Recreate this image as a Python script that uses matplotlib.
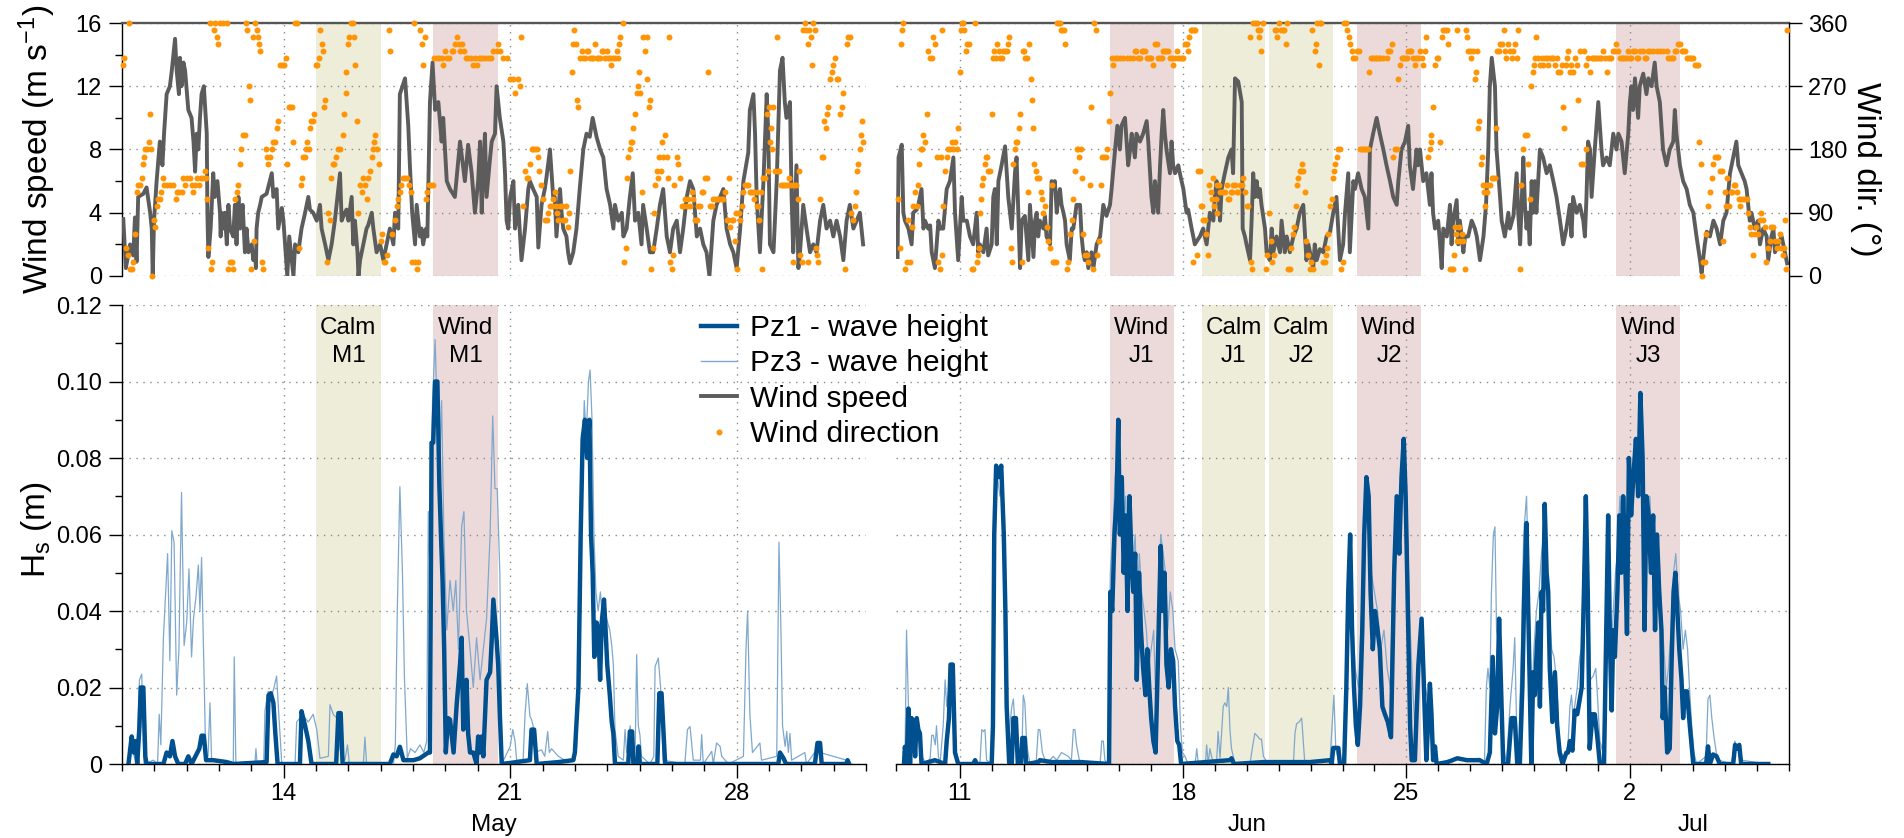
import numpy as np
import matplotlib
matplotlib.use("Agg")
import matplotlib.pyplot as plt
import matplotlib.dates as mdates
from matplotlib.lines import Line2D
from matplotlib.ticker import MultipleLocator, FuncFormatter, FixedLocator

plt.rcParams['font.family'] = ['Liberation Sans', 'DejaVu Sans']
plt.rcParams['mathtext.fontset'] = 'custom'
plt.rcParams['mathtext.rm'] = 'Liberation Sans'
plt.rcParams['mathtext.it'] = 'Liberation Sans:italic'
plt.rcParams['mathtext.default'] = 'regular'

# ---------------- data (time = days since segment start) ----------------
SEGMENTS = [("2013-05-09", "2013-06-01"), ("2013-06-09", "2013-07-07")]

may_ws = [(0.04,3.6),(0.12,0.5),(0.25,2.0),(0.35,1.3),(0.40,3.7),(0.45,0.9),(0.50,5.0),(0.66,5.2),(0.76,5.6),(0.87,4.0),(0.92,3.0),(0.95,0.0),(0.99,3.5),(1.07,6.0),(1.17,8.5),(1.25,7.0),(1.30,9.0),(1.38,11.5),(1.48,12.0),(1.54,13.0),(1.59,14.0),(1.64,15.0),(1.69,13.0),(1.76,11.5),(1.79,13.8),(1.84,12.0),(1.90,13.5),(1.95,13.0),(2.05,10.5),(2.15,10.0),(2.21,8.5),(2.26,6.6),(2.31,9.0),(2.36,8.0),(2.41,10.0),(2.46,11.5),(2.53,12.0),(2.62,9.0),(2.64,4.0),(2.67,1.2),(2.74,3.0),(2.82,6.5),(2.87,5.0),(2.95,6.0),(3.03,4.0),(3.05,2.5),(3.08,4.0),(3.13,3.0),(3.18,4.0),(3.24,2.0),(3.29,4.5),(3.34,3.0),(3.44,2.5),(3.49,4.5),(3.54,2.0),(3.60,5.0),(3.65,3.0),(3.73,4.5),(3.80,1.5),(3.85,3.0),(3.91,1.5),(4.01,2.0),(4.06,1.0),(4.11,1.5),(4.14,0.5),(4.16,3.0),(4.21,4.0),(4.27,4.5),(4.32,5.0),(4.47,5.2),(4.63,6.5),(4.68,5.0),(4.78,5.5),(4.83,3.0),(4.94,4.3),(4.99,3.5),(5.04,2.0),(5.11,0.0),(5.17,2.5),(5.30,0.0),(5.35,2.0),(5.45,1.5),(5.55,3.0),(5.66,4.0),(5.76,5.0),(5.81,4.2),(5.91,4.0),(6.02,3.5),(6.12,4.5),(6.17,3.0),(6.28,2.0),(6.38,1.0),(6.48,2.0),(6.58,3.5),(6.66,5.0),(6.74,6.5),(6.79,3.5),(6.89,4.0),(6.94,4.2),(7.00,3.5),(7.10,5.0),(7.15,2.0),(7.20,3.5),(7.28,1.5),(7.31,0.0),(7.36,1.0),(7.46,2.0),(7.56,3.0),(7.61,3.2),(7.72,4.0),(7.77,3.0),(7.87,1.5),(7.98,2.0),(8.08,1.0),(8.18,2.0),(8.28,3.0),(8.39,2.0),(8.44,4.0),(8.54,3.0),(8.59,11.5),(8.75,12.5),(8.80,11.0),(8.85,9.5),(8.90,7.0),(8.97,4.0),(9.06,2.0),(9.11,4.5),(9.21,2.5),(9.26,3.0),(9.31,2.0),(9.40,3.0),(9.44,2.5),(9.52,11.0),(9.60,13.5),(9.68,10.5),(9.78,11.0),(9.88,8.5),(9.93,10.0),(10.04,6.0),(10.14,5.5),(10.29,5.0),(10.45,8.5),(10.60,6.0),(10.70,8.3),(10.81,6.5),(10.91,4.0),(11.01,6.0),(11.07,8.5),(11.12,4.0),(11.17,7.0),(11.22,9.0),(11.27,5.0),(11.38,7.5),(11.43,8.5),(11.53,9.0),(11.58,12.0),(11.68,10.0),(11.79,8.5),(11.84,6.5),(11.89,3.5),(11.94,3.0),(12.00,5.0),(12.10,6.0),(12.15,3.0),(12.25,4.5),(12.35,1.0),(12.46,3.0),(12.56,5.5),(12.61,6.0),(12.71,5.5),(12.82,5.0),(12.87,1.8),(12.97,4.5),(13.07,5.5),(13.12,6.2),(13.23,8.0),(13.33,5.0),(13.38,5.0),(13.43,2.5),(13.54,5.5),(13.59,4.0),(13.64,3.0),(13.74,2.5),(13.79,1.5),(13.85,0.8),(13.95,1.5),(14.05,3.0),(14.15,5.5),(14.26,8.0),(14.36,9.0),(14.46,8.8),(14.55,10.0),(14.67,8.8),(14.78,8.0),(14.88,7.5),(14.98,5.5),(15.09,4.5),(15.19,3.0),(15.24,4.5),(15.34,3.5),(15.45,4.0),(15.50,2.5),(15.60,3.0),(15.70,5.0),(15.79,6.5),(15.86,3.5),(15.96,4.0),(16.06,2.0),(16.11,4.5),(16.22,3.0),(16.32,1.5),(16.42,1.5),(16.53,3.0),(16.63,4.5),(16.73,5.5),(16.84,2.5),(16.94,1.5),(17.04,3.0),(17.15,3.5),(17.25,1.5),(17.35,3.0),(17.46,5.0),(17.56,6.0),(17.66,5.5),(17.77,2.5),(17.87,3.0),(17.97,2.0),(18.07,1.5),(18.16,0.0),(18.28,3.5),(18.38,4.5),(18.49,5.0),(18.59,5.5),(18.69,3.0),(18.80,2.0),(18.90,1.5),(19.00,0.5),(19.11,3.0),(19.21,6.0),(19.36,7.8),(19.41,10.5),(19.52,11.5),(19.57,9.0),(19.62,5.0),(19.72,1.5),(19.83,6.0),(19.93,11.5),(19.98,9.0),(20.03,2.0),(20.14,1.5),(20.24,6.0),(20.34,13.0),(20.42,13.8),(20.49,11.0),(20.54,10.0),(20.65,11.0),(20.70,5.0),(20.75,1.5),(20.85,7.0),(20.91,0.5),(20.96,1.5),(21.06,4.5),(21.16,3.0),(21.27,1.5),(21.37,2.0),(21.47,1.5),(21.58,3.5),(21.68,4.5),(21.78,3.0),(21.89,3.5),(21.99,2.5),(22.09,3.5),(22.20,2.5),(22.30,1.0),(22.40,3.5),(22.50,4.5),(22.61,3.0),(22.71,3.5),(22.81,4.0),(22.91,2.0)]

jun_ws = [(0.05,1.2),(0.08,7.5),(0.18,8.3),(0.23,4.0),(0.28,3.5),(0.39,3.0),(0.44,2.5),(0.49,2.0),(0.54,4.0),(0.65,4.2),(0.70,4.5),(0.80,5.5),(0.86,3.0),(0.91,3.5),(1.01,3.0),(1.07,3.2),(1.12,1.5),(1.22,0.5),(1.33,3.5),(1.38,3.0),(1.48,3.0),(1.59,5.5),(1.69,6.0),(1.80,7.5),(1.85,4.0),(1.95,1.0),(2.06,5.0),(2.11,3.5),(2.22,3.5),(2.32,2.5),(2.42,2.0),(2.53,4.0),(2.58,1.5),(2.63,2.0),(2.74,1.5),(2.84,3.0),(2.89,1.3),(3.00,2.0),(3.05,5.0),(3.10,5.5),(3.16,2.0),(3.21,6.0),(3.31,7.0),(3.42,8.2),(3.52,5.0),(3.63,3.0),(3.73,6.5),(3.78,7.5),(3.89,0.5),(3.94,3.5),(4.04,3.8),(4.15,1.0),(4.20,4.5),(4.31,1.2),(4.36,3.5),(4.41,4.0),(4.46,2.5),(4.51,3.5),(4.62,3.0),(4.67,3.8),(4.72,2.5),(4.83,2.0),(4.88,6.0),(4.93,5.5),(4.98,6.0),(5.04,4.0),(5.09,5.0),(5.14,5.5),(5.19,4.5),(5.25,4.0),(5.30,3.5),(5.35,2.0),(5.45,1.0),(5.51,3.0),(5.56,3.0),(5.66,4.5),(5.77,4.5),(5.82,2.5),(5.87,1.5),(5.92,1.0),(5.98,1.5),(6.03,0.5),(6.13,1.5),(6.19,0.5),(6.29,2.0),(6.40,2.5),(6.50,4.5),(6.60,3.8),(6.71,4.5),(6.76,5.5),(6.87,8.0),(6.94,9.5),(7.02,8.0),(7.07,9.5),(7.18,10.0),(7.23,8.5),(7.28,7.0),(7.34,8.0),(7.39,9.0),(7.49,7.5),(7.54,9.0),(7.65,8.5),(7.75,9.0),(7.86,9.8),(7.91,8.5),(8.01,5.0),(8.07,4.0),(8.12,6.0),(8.22,4.0),(8.28,7.0),(8.33,9.0),(8.38,10.5),(8.43,9.0),(8.48,8.0),(8.59,6.5),(8.64,8.5),(8.69,7.0),(8.75,6.5),(8.85,7.0),(8.90,6.5),(9.01,5.5),(9.11,4.0),(9.16,4.2),(9.27,3.0),(9.37,2.0),(9.43,2.2),(9.53,2.5),(9.63,3.0),(9.74,2.0),(9.84,4.0),(9.95,3.5),(10.00,5.0),(10.05,6.0),(10.10,5.5),(10.16,3.5),(10.21,5.5),(10.31,6.5),(10.42,7.5),(10.52,8.0),(10.57,6.5),(10.63,12.5),(10.73,12.3),(10.84,11.0),(10.87,3.0),(10.94,2.5),(10.99,2.0),(11.10,1.0),(11.15,3.5),(11.20,6.5),(11.25,5.0),(11.31,6.0),(11.36,5.0),(11.41,5.5),(11.46,4.5),(11.57,3.0),(11.62,1.5),(11.72,1.0),(11.78,3.0),(11.83,1.5),(11.93,2.5),(12.04,1.5),(12.09,3.5),(12.19,1.5),(12.25,2.5),(12.35,1.5),(12.46,2.5),(12.56,3.0),(12.66,4.0),(12.77,4.5),(12.87,1.0),(12.93,2.0),(13.03,1.0),(13.08,0.5),(13.13,2.0),(13.19,1.0),(13.29,1.7),(13.40,1.5),(13.50,2.5),(13.61,2.8),(13.71,4.0),(13.81,5.0),(13.92,1.0),(14.02,2.0),(14.08,4.0),(14.18,6.5),(14.23,1.5),(14.34,6.0),(14.39,5.5),(14.49,6.5),(14.60,5.5),(14.70,5.0),(14.81,3.0),(14.86,8.0),(14.96,9.0),(15.07,10.0),(15.17,9.0),(15.28,8.0),(15.38,7.0),(15.49,6.0),(15.59,5.0),(15.70,4.5),(15.75,6.0),(15.85,8.0),(15.96,8.5),(16.06,9.5),(16.11,7.0),(16.21,5.5),(16.32,8.0),(16.37,7.0),(16.43,8.0),(16.53,6.0),(16.63,6.5),(16.74,4.5),(16.79,6.5),(16.84,4.0),(16.90,3.0),(17.00,3.5),(17.06,2.0),(17.11,0.5),(17.16,3.0),(17.27,2.5),(17.37,4.5),(17.42,2.0),(17.47,3.5),(17.58,4.8),(17.63,2.0),(17.68,3.5),(17.79,1.5),(17.84,2.5),(17.94,2.5),(18.05,3.5),(18.15,3.0),(18.21,2.5),(18.31,1.0),(18.42,2.5),(18.50,4.5),(18.57,8.0),(18.62,12.0),(18.68,13.8),(18.78,12.0),(18.83,8.0),(18.94,5.0),(18.99,3.5),(19.09,2.5),(19.20,4.0),(19.25,3.0),(19.36,3.8),(19.46,6.5),(19.51,4.0),(19.57,2.0),(19.67,7.5),(19.72,4.5),(19.77,3.0),(19.82,4.0),(19.87,2.0),(19.93,6.0),(19.98,4.0),(20.03,6.0),(20.08,4.0),(20.19,8.0),(20.29,7.5),(20.40,6.5),(20.50,7.0),(20.61,6.0),(20.71,5.0),(20.82,3.5),(20.92,2.0),(21.02,3.0),(21.13,4.5),(21.18,2.5),(21.23,5.0),(21.34,4.0),(21.44,4.5),(21.55,3.5),(21.60,2.5),(21.65,5.0),(21.70,8.5),(21.76,8.0),(21.81,5.0),(21.91,8.0),(22.02,11.0),(22.12,8.0),(22.17,7.0),(22.28,7.5),(22.38,7.0),(22.49,9.0),(22.59,8.0),(22.65,9.0),(22.75,8.5),(22.85,6.5),(22.96,9.0),(23.01,11.0),(23.06,12.0),(23.11,10.5),(23.17,12.5),(23.27,10.0),(23.32,12.0),(23.43,12.8),(23.53,11.5),(23.59,12.5),(23.69,12.0),(23.79,13.5),(23.85,12.0),(23.95,11.0),(24.05,8.0),(24.16,7.0),(24.26,8.0),(24.37,8.5),(24.42,10.5),(24.47,9.0),(24.58,7.0),(24.68,6.0),(24.79,5.5),(24.89,4.5),(25.00,4.0),(25.10,2.5),(25.21,1.0),(25.26,0.2),(25.36,2.0),(25.42,2.8),(25.52,2.5),(25.63,3.5),(25.73,3.0),(25.84,2.0),(25.94,3.5),(26.04,4.0),(26.15,6.5),(26.25,7.5),(26.35,8.5),(26.41,7.0),(26.51,6.5),(26.61,6.0),(26.67,5.5),(26.77,3.5),(26.82,4.0),(26.93,3.0),(27.03,3.5),(27.09,2.0),(27.19,3.0),(27.30,2.5),(27.35,1.0),(27.45,2.5),(27.51,3.0),(27.56,1.5),(27.66,2.0),(27.77,2.5),(27.87,1.5),(27.94,0.8)]

may_wd = [(0.04,300),(0.06,310),(0.12,40),(0.18,30),(0.23,360),(0.25,10),(0.31,10),(0.35,20),(0.40,60),(0.45,120),(0.50,130),(0.56,130),(0.61,140),(0.64,160),(0.68,170),(0.72,180),(0.76,180),(0.82,190),(0.86,230),(0.89,180),(0.94,0),(0.99,80),(1.03,70),(1.07,100),(1.11,110),(1.17,110),(1.22,120),(1.26,140),(1.30,130),(1.38,130),(1.48,130),(1.59,130),(1.67,110),(1.71,120),(1.77,120),(1.84,120),(1.90,140),(1.96,130),(2.02,140),(2.10,140),(2.15,130),(2.21,120),(2.27,130),(2.33,140),(2.39,130),(2.45,140),(2.51,140),(2.56,150),(2.60,140),(2.64,110),(2.67,40),(2.71,360),(2.74,10),(2.79,20),(2.83,350),(2.87,360),(2.93,340),(2.98,330),(3.03,360),(3.13,360),(3.24,360),(3.29,10),(3.34,20),(3.39,20),(3.44,10),(3.50,110),(3.54,120),(3.59,130),(3.64,160),(3.69,180),(3.75,200),(3.80,200),(3.83,360),(3.87,350),(3.92,270),(3.96,250),(3.99,10),(4.04,340),(4.07,50),(4.12,360),(4.16,350),(4.19,340),(4.23,330),(4.28,320),(4.32,20),(4.37,10),(4.44,180),(4.47,170),(4.52,160),(4.57,170),(4.63,180),(4.68,190),(4.74,190),(4.80,210),(4.83,220),(4.88,300),(4.94,300),(5.01,300),(5.07,310),(5.11,160),(5.15,240),(5.19,240),(5.24,240),(5.30,190),(5.35,360),(5.40,360),(5.48,40),(5.52,130),(5.56,140),(5.61,170),(5.66,170),(5.69,180),(5.73,190),(5.77,180),(5.81,210),(5.85,220),(5.89,220),(5.95,230),(6.00,300),(6.04,300),(6.08,310),(6.12,350),(6.17,330),(6.20,320),(6.25,240),(6.29,250),(6.33,20),(6.38,90),(6.43,80),(6.47,140),(6.51,160),(6.56,160),(6.62,170),(6.68,180),(6.74,180),(6.82,200),(6.87,230),(6.91,260),(6.94,290),(6.99,330),(7.03,340),(7.07,360),(7.13,360),(7.17,340),(7.21,300),(7.25,220),(7.31,90),(7.36,130),(7.41,120),(7.46,140),(7.51,130),(7.56,110),(7.61,140),(7.67,150),(7.72,170),(7.75,180),(7.79,190),(7.83,200),(7.87,180),(7.93,160),(8.00,50),(8.05,60),(8.10,20),(8.14,20),(8.20,30),(8.24,350),(8.28,320),(8.34,60),(8.39,10),(8.44,80),(8.49,100),(8.54,110),(8.59,120),(8.64,130),(8.70,140),(8.75,140),(8.80,140),(8.88,130),(8.94,120),(8.98,20),(9.03,360),(9.07,20),(9.11,10),(9.16,20),(9.21,350),(9.26,330),(9.31,300),(9.36,340),(9.40,110),(9.44,120),(9.50,130),(9.54,130),(9.60,130),(9.64,310),(9.73,310),(9.81,310),(9.88,310),(9.93,300),(9.99,320),(10.06,310),(10.12,310),(10.19,320),(10.24,320),(10.30,330),(10.35,340),(10.41,330),(10.45,320),(10.51,330),(10.57,320),(10.63,310),(10.71,310),(10.78,310),(10.84,300),(10.90,310),(10.96,300),(11.03,310),(11.09,310),(11.17,310),(11.25,310),(11.33,310),(11.42,310),(11.48,320),(11.58,320),(11.63,330),(11.68,320),(11.79,310),(11.89,310),(12.00,280),(12.08,280),(12.15,260),(12.25,280),(12.30,270),(12.35,340),(12.40,100),(12.46,150),(12.51,140),(12.56,140),(12.61,160),(12.66,180),(12.71,180),(12.77,180),(12.82,180),(12.87,170),(12.90,150),(12.94,130),(13.00,110),(13.08,80),(13.13,80),(13.18,90),(13.23,100),(13.28,100),(13.33,110),(13.38,120),(13.42,100),(13.46,90),(13.49,80),(13.54,100),(13.59,100),(13.64,80),(13.69,80),(13.74,100),(13.79,70),(13.83,90),(13.85,150),(13.90,290),(13.95,330),(13.98,350),(14.03,330),(14.07,250),(14.11,240),(14.16,310),(14.21,320),(14.26,310),(14.31,310),(14.36,320),(14.41,320),(14.46,310),(14.52,310),(14.57,310),(14.62,330),(14.67,310),(14.72,310),(14.78,310),(14.83,320),(14.88,320),(14.93,310),(14.98,320),(15.03,310),(15.08,310),(15.13,300),(15.19,310),(15.24,310),(15.29,320),(15.34,310),(15.37,330),(15.41,340),(15.48,360),(15.52,20),(15.57,40),(15.60,140),(15.65,170),(15.70,180),(15.73,190),(15.77,190),(15.81,210),(15.86,230),(15.91,260),(15.94,270),(15.98,290),(16.01,260),(16.07,120),(16.12,340),(16.17,320),(16.22,340),(16.24,280),(16.29,240),(16.32,250),(16.36,10),(16.40,40),(16.45,90),(16.49,130),(16.53,150),(16.58,140),(16.61,170),(16.65,150),(16.69,190),(16.73,170),(16.79,200),(16.84,170),(16.89,140),(16.91,340),(16.94,20),(16.99,10),(17.02,30),(17.07,130),(17.15,170),(17.20,160),(17.25,140),(17.30,100),(17.35,100),(17.40,110),(17.46,100),(17.51,110),(17.56,100),(17.61,120),(17.66,110),(17.71,80),(17.77,80),(17.82,100),(17.87,100),(17.92,120),(17.97,120),(18.02,140),(18.07,140),(18.12,290),(18.18,100),(18.23,100),(18.28,110),(18.33,110),(18.38,110),(18.44,110),(18.49,110),(18.54,110),(18.59,110),(18.64,120),(18.69,80),(18.74,80),(18.77,140),(18.81,70),(18.85,80),(18.90,80),(18.95,50),(18.98,90),(19.02,10),(19.05,90),(19.08,90),(19.12,80),(19.16,100),(19.21,120),(19.26,130),(19.31,130),(19.36,130),(19.41,120),(19.46,120),(19.52,120),(19.55,110),(19.59,120),(19.62,100),(19.67,100),(19.70,80),(19.74,120),(19.77,10),(19.83,140),(19.88,140),(19.93,230),(19.96,150),(20.00,240),(20.03,190),(20.06,210),(20.09,180),(20.13,240),(20.18,150),(20.24,340),(20.27,150),(20.32,150),(20.37,130),(20.42,130),(20.47,130),(20.53,130),(20.58,130),(20.63,140),(20.68,130),(20.73,20),(20.78,130),(20.83,130),(20.89,110),(20.93,150),(20.96,30),(21.01,20),(21.06,350),(21.11,360),(21.16,350),(21.20,20),(21.22,330),(21.25,350),(21.29,340),(21.33,300),(21.37,360),(21.41,350),(21.45,40),(21.50,30),(21.53,20),(21.58,110),(21.63,170),(21.68,170),(21.71,220),(21.75,210),(21.78,230),(21.83,240),(21.88,280),(21.94,290),(21.99,300),(22.04,310),(22.09,280),(22.14,280),(22.20,230),(22.25,240),(22.30,260),(22.35,10),(22.40,330),(22.45,340),(22.50,340),(22.55,90),(22.61,80),(22.66,100),(22.69,120),(22.73,150),(22.76,160),(22.81,180),(22.84,200),(22.88,220),(22.91,190)]

jun_wd = [(0.07,110),(0.13,40),(0.16,330),(0.20,350),(0.23,360),(0.28,10),(0.33,20),(0.39,80),(0.44,20),(0.49,70),(0.54,100),(0.60,120),(0.65,100),(0.68,130),(0.73,160),(0.77,180),(0.83,180),(0.86,200),(0.91,190),(0.96,230),(1.01,320),(1.07,310),(1.12,310),(1.17,340),(1.22,330),(1.27,170),(1.33,20),(1.38,10),(1.40,170),(1.43,30),(1.45,350),(1.48,100),(1.54,150),(1.59,170),(1.64,180),(1.69,180),(1.75,190),(1.80,180),(1.85,190),(1.90,180),(1.95,210),(2.01,290),(2.04,350),(2.08,360),(2.11,360),(2.14,350),(2.19,320),(2.24,330),(2.30,330),(2.37,10),(2.42,10),(2.48,360),(2.53,20),(2.56,30),(2.60,40),(2.63,90),(2.66,110),(2.70,130),(2.74,140),(2.78,160),(2.82,170),(2.86,170),(2.90,150),(2.95,150),(3.00,230),(3.03,310),(3.07,320),(3.13,310),(3.18,330),(3.22,320),(3.26,310),(3.31,310),(3.36,320),(3.42,320),(3.47,320),(3.51,330),(3.55,340),(3.61,40),(3.65,20),(3.68,160),(3.72,180),(3.76,190),(3.80,190),(3.85,210),(3.89,230),(3.94,20),(3.97,320),(4.01,320),(4.06,310),(4.10,310),(4.15,120),(4.18,330),(4.22,280),(4.26,250),(4.31,210),(4.34,160),(4.38,150),(4.43,140),(4.48,140),(4.54,120),(4.59,110),(4.62,90),(4.67,100),(4.72,70),(4.78,50),(4.83,40),(4.88,130),(4.91,20),(4.96,20),(5.02,20),(5.06,360),(5.11,360),(5.14,360),(5.17,350),(5.22,350),(5.28,350),(5.30,330),(5.35,10),(5.40,20),(5.45,60),(5.51,80),(5.56,110),(5.61,150),(5.66,180),(5.72,180),(5.75,170),(5.80,180),(5.84,140),(5.87,60),(5.92,30),(5.98,30),(6.03,20),(6.08,130),(6.11,240),(6.17,10),(6.21,360),(6.27,350),(6.31,30),(6.37,50),(6.42,130),(6.46,170),(6.52,170),(6.57,170),(6.62,180),(6.67,220),(6.71,260),(6.76,310),(6.81,300),(6.87,310),(6.92,310),(7.02,310),(7.13,310),(7.23,310),(7.34,310),(7.44,310),(7.49,320),(7.54,320),(7.60,310),(7.65,310),(7.70,320),(7.75,320),(7.81,320),(7.86,310),(7.91,310),(7.96,310),(8.01,310),(8.07,300),(8.12,330),(8.17,330),(8.22,310),(8.28,310),(8.33,310),(8.38,320),(8.43,320),(8.48,320),(8.54,320),(8.59,310),(8.64,310),(8.67,300),(8.75,310),(8.80,320),(8.85,310),(8.90,310),(8.96,310),(9.01,310),(9.06,330),(9.11,330),(9.16,320),(9.20,340),(9.24,350),(9.29,350),(9.32,20),(9.34,350),(9.39,350),(9.43,30),(9.48,150),(9.53,150),(9.56,100),(9.60,100),(9.63,80),(9.69,80),(9.72,60),(9.77,30),(9.82,130),(9.87,120),(9.92,110),(9.95,140),(9.98,100),(10.02,110),(10.05,90),(10.08,130),(10.12,130),(10.16,120),(10.21,120),(10.26,120),(10.31,120),(10.37,130),(10.40,110),(10.45,110),(10.49,120),(10.54,120),(10.57,130),(10.63,130),(10.68,120),(10.73,120),(10.78,130),(10.84,130),(10.89,140),(10.94,120),(10.99,100),(11.05,100),(11.10,340),(11.13,20),(11.17,10),(11.20,360),(11.25,360),(11.31,360),(11.34,350),(11.38,340),(11.41,350),(11.44,320),(11.52,360),(11.59,10),(11.64,30),(11.69,90),(11.75,50),(11.80,20),(11.85,30),(11.88,350),(11.93,350),(11.96,340),(12.02,360),(12.07,350),(12.12,350),(12.17,350),(12.22,330),(12.25,360),(12.30,10),(12.35,10),(12.40,40),(12.46,60),(12.49,70),(12.53,100),(12.56,130),(12.61,140),(12.66,150),(12.70,150),(12.74,160),(12.77,150),(12.82,120),(12.87,50),(12.93,30),(12.98,10),(13.01,20),(13.05,350),(13.08,10),(13.13,320),(13.17,330),(13.21,360),(13.25,300),(13.29,360),(13.34,360),(13.40,20),(13.45,20),(13.48,30),(13.52,40),(13.55,60),(13.61,100),(13.66,110),(13.69,140),(13.73,150),(13.78,160),(13.84,170),(13.87,180),(13.92,180),(13.95,10),(14.00,20),(14.04,360),(14.10,360),(14.15,350),(14.20,340),(14.25,330),(14.31,320),(14.34,310),(14.39,310),(14.44,320),(14.51,320),(14.55,180),(14.60,180),(14.65,180),(14.70,180),(14.75,180),(14.81,180),(14.84,290),(14.88,310),(14.93,310),(14.98,310),(15.04,310),(15.09,310),(15.14,310),(15.17,310),(15.28,310),(15.38,310),(15.43,320),(15.49,320),(15.54,330),(15.59,170),(15.64,180),(15.70,180),(15.75,280),(15.80,300),(15.85,310),(15.90,310),(15.96,310),(16.01,310),(16.06,320),(16.11,320),(16.16,320),(16.22,310),(16.27,300),(16.32,310),(16.37,310),(16.43,320),(16.48,310),(16.53,300),(16.58,320),(16.63,340),(16.69,170),(16.74,180),(16.76,190),(16.79,200),(16.84,240),(16.90,300),(16.95,310),(17.00,310),(17.05,190),(17.11,340),(17.16,350),(17.21,350),(17.27,350),(17.32,330),(17.37,10),(17.42,10),(17.48,10),(17.50,30),(17.53,70),(17.56,60),(17.58,350),(17.60,50),(17.65,70),(17.68,50),(17.74,60),(17.79,50),(17.84,10),(17.87,350),(17.91,340),(17.94,320),(17.99,320),(18.04,310),(18.10,320),(18.15,280),(18.18,290),(18.22,320),(18.25,210),(18.29,220),(18.33,160),(18.36,170),(18.39,130),(18.43,120),(18.46,100),(18.50,130),(18.54,120),(18.57,130),(18.62,130),(18.68,140),(18.73,140),(18.78,140),(18.81,210),(18.85,320),(18.90,320),(18.95,330),(19.00,330),(19.06,350),(19.09,320),(19.14,310),(19.19,330),(19.25,320),(19.30,310),(19.35,320),(19.40,330),(19.46,310),(19.51,350),(19.56,10),(19.61,130),(19.66,180),(19.72,200),(19.77,200),(19.82,160),(19.87,110),(19.90,270),(19.96,290),(20.00,300),(20.04,310),(20.08,340),(20.13,310),(20.19,300),(20.24,310),(20.29,300),(20.34,310),(20.40,310),(20.45,300),(20.50,310),(20.56,310),(20.61,310),(20.66,300),(20.71,310),(20.76,290),(20.82,290),(20.87,300),(20.92,240),(20.95,210),(21.00,300),(21.03,310),(21.08,320),(21.13,290),(21.18,300),(21.23,290),(21.29,310),(21.34,300),(21.39,250),(21.44,320),(21.49,160),(21.55,160),(21.58,320),(21.62,180),(21.65,300),(21.70,310),(21.76,290),(21.81,310),(21.86,310),(21.91,310),(21.96,310),(22.02,310),(22.07,310),(22.12,310),(22.17,320),(22.22,310),(22.28,290),(22.33,310),(22.38,310),(22.43,310),(22.49,320),(22.54,320),(22.59,330),(22.64,320),(22.70,310),(22.75,310),(22.80,310),(22.85,310),(22.91,310),(22.96,320),(23.01,310),(23.06,310),(23.11,320),(23.17,320),(23.22,310),(23.27,310),(23.32,320),(23.43,320),(23.48,310),(23.53,310),(23.58,320),(23.64,320),(23.74,320),(23.85,320),(23.95,320),(24.06,320),(24.16,320),(24.21,310),(24.26,310),(24.32,310),(24.37,310),(24.42,320),(24.47,320),(24.53,330),(24.58,330),(24.63,320),(24.68,320),(24.73,320),(24.79,310),(24.84,310),(24.89,310),(24.94,310),(25.00,310),(25.05,300),(25.10,300),(25.15,300),(25.18,190),(25.23,160),(25.26,0),(25.31,20),(25.36,20),(25.41,60),(25.47,100),(25.52,120),(25.57,140),(25.62,160),(25.68,170),(25.73,170),(25.78,170),(25.83,150),(25.89,150),(25.94,50),(25.99,120),(26.04,100),(26.07,140),(26.13,100),(26.17,120),(26.22,120),(26.27,130),(26.32,130),(26.38,120),(26.43,110),(26.46,100),(26.51,110),(26.56,110),(26.61,110),(26.67,110),(26.72,90),(26.77,70),(26.82,60),(26.87,30),(26.93,60),(26.98,70),(27.03,60),(27.08,80),(27.13,90),(27.19,80),(27.24,70),(27.29,20),(27.35,40),(27.40,50),(27.45,70),(27.50,70),(27.55,50),(27.61,40),(27.66,50),(27.71,60),(27.76,40),(27.82,30),(27.85,40),(27.88,80),(27.91,10),(27.94,350)]

may_pz1 = [(0.20,0),(0.30,0.0072),(0.37,0.003),(0.43,0.006),(0.47,0),(0.54,0.01),(0.58,0.02),(0.66,0.02),(0.72,0.002),(0.76,0),(1.28,0),(1.38,0.003),(1.48,0.002),(1.56,0.006),(1.64,0.002),(1.74,0),(1.95,0),(2.05,0.002),(2.15,0),(2.39,0.004),(2.46,0.0074),(2.53,0.0074),(2.60,0.001),(2.82,0.001),(3.24,0.0005),(3.44,0),(4.47,0.0005),(4.53,0.018),(4.60,0.0185),(4.68,0.016),(4.74,0.008),(4.81,0),(5.50,0),(5.55,0.0138),(5.66,0.01),(5.76,0.006),(5.86,0),(6.62,0),(6.69,0.0133),(6.76,0.0133),(6.82,0),(8.28,0),(8.39,0.0025),(8.49,0.002),(8.59,0.0045),(8.70,0.001),(9.01,0.001),(9.21,0.0015),(9.47,0.003),(9.52,0.003),(9.57,0.084),(9.62,0.084),(9.68,0.1),(9.75,0.1),(9.81,0.073),(9.86,0.06),(9.91,0.048),(9.96,0.03),(10.01,0.003),(10.08,0.012),(10.14,0.0116),(10.25,0.003),(10.35,0.016),(10.45,0.026),(10.50,0.033),(10.55,0.009),(10.60,0.015),(10.65,0.022),(10.70,0.008),(10.76,0.003),(10.86,0.003),(10.96,0.0),(11.01,0.0072),(11.07,0.003),(11.12,0.0072),(11.17,0.002),(11.27,0.022),(11.38,0.024),(11.43,0.0325),(11.48,0.043),(11.53,0.0377),(11.58,0.0325),(11.63,0.026),(11.68,0.013),(11.74,0),(12.20,0.0005),(12.61,0.001),(12.66,0.009),(12.74,0.009),(12.82,0),(13.49,0.0005),(13.95,0.001),(14.00,0.003),(14.11,0.02),(14.18,0.06),(14.24,0.085),(14.31,0.09),(14.38,0.08),(14.45,0.09),(14.50,0.06),(14.55,0.05),(14.60,0.028),(14.67,0.037),(14.73,0.035),(14.78,0.022),(14.83,0.037),(14.90,0.043),(14.95,0.035),(15.00,0.026),(15.08,0.018),(15.14,0.011),(15.19,0.008),(15.24,0),(15.65,0),(15.70,0.0085),(15.77,0.0085),(15.81,0),(15.93,0),(15.97,0.0046),(16.01,0),(16.55,0),(16.61,0.0185),(16.68,0.0185),(16.79,0),(20.29,0),(20.34,0.003),(20.45,0.0015),(20.53,0),(21.42,0),(21.50,0.0055),(21.58,0.0055),(21.63,0),(22.39,0),(22.43,0.001),(22.48,0)]

may_pz3 = [(0.20,0.004),(0.30,0.004),(0.45,0),(0.54,0.022),(0.61,0.0235),(0.68,0),(0.97,0.001),(1.10,0),(1.15,0.013),(1.20,0.005),(1.28,0.033),(1.35,0.045),(1.41,0.055),(1.48,0.027),(1.54,0.061),(1.61,0.058),(1.69,0.018),(1.76,0.03),(1.84,0.071),(1.92,0.031),(2.00,0.037),(2.07,0.051),(2.15,0.028),(2.21,0.038),(2.29,0.044),(2.36,0.052),(2.41,0.04),(2.46,0.054),(2.53,0.026),(2.59,0.0015),(2.66,0.002),(2.72,0.016),(2.77,0.001),(3.03,0.001),(3.44,0),(3.47,0.028),(3.52,0),(4.11,0),(4.14,0.004),(4.18,0),(4.38,0),(4.42,0.014),(4.52,0.019),(4.63,0.018),(4.70,0.02),(4.78,0.023),(4.84,0.014),(4.94,0),(5.35,0),(5.40,0.011),(5.50,0.012),(5.61,0.0125),(5.76,0.011),(5.91,0.013),(6.02,0.009),(6.12,0.0015),(6.38,0.002),(6.43,0.0155),(6.53,0.013),(6.64,0.012),(6.74,0.0037),(6.89,0.001),(6.97,0.005),(7.03,0),(7.46,0),(7.51,0.007),(7.56,0),(8.39,0),(8.45,0.005),(8.51,0.04),(8.59,0.0725),(8.67,0.05),(8.73,0.023),(8.82,0.0015),(8.92,0.004),(9.06,0.003),(9.21,0.005),(9.33,0.003),(9.42,0.006),(9.47,0.066),(9.52,0.05),(9.60,0.095),(9.68,0.111),(9.75,0.09),(9.81,0.075),(9.88,0.095),(9.95,0.06),(10.04,0.035),(10.14,0.048),(10.24,0.04),(10.32,0.048),(10.40,0.03),(10.50,0.062),(10.57,0.066),(10.65,0.04),(10.76,0.03),(10.86,0.02),(10.96,0.033),(11.07,0.022),(11.17,0.03),(11.27,0.038),(11.38,0.06),(11.46,0.091),(11.53,0.072),(11.60,0.072),(11.68,0.05),(11.71,0.03),(11.74,0),(12.00,0.0046),(12.08,0.009),(12.15,0.006),(12.20,0.001),(12.40,0.001),(12.46,0.013),(12.53,0.021),(12.61,0.0125),(12.66,0.0116),(12.71,0.01),(12.77,0.003),(12.97,0.0037),(13.07,0.002),(13.16,0.0085),(13.21,0.003),(13.28,0.004),(13.49,0.002),(13.69,0.001),(14.00,0.001),(14.05,0.004),(14.14,0.03),(14.21,0.07),(14.29,0.095),(14.35,0.085),(14.42,0.1),(14.47,0.103),(14.53,0.09),(14.59,0.06),(14.65,0.045),(14.72,0.04),(14.79,0.045),(14.85,0.038),(14.93,0.042),(14.98,0.038),(15.08,0.035),(15.14,0.031),(15.19,0.026),(15.24,0.009),(15.34,0.002),(15.50,0.001),(15.55,0.009),(15.60,0.003),(15.71,0.01),(15.76,0),(15.86,0.001),(15.91,0.0286),(15.96,0.01),(16.01,0.0077),(16.06,0.002),(16.32,0),(16.44,0.002),(16.48,0.0255),(16.58,0.0277),(16.65,0.02),(16.73,0.001),(17.40,0),(17.48,0.009),(17.56,0.0098),(17.66,0.001),(17.88,0.001),(17.92,0.0077),(17.97,0),(18.23,0.0033),(18.28,0),(18.38,0.0055),(18.49,0.0046),(18.54,0.002),(18.75,0),(19.21,0.002),(19.29,0.03),(19.34,0.04),(19.41,0.013),(19.49,0.003),(19.72,0.0055),(19.77,0.001),(20.24,0.002),(20.31,0.058),(20.37,0.035),(20.42,0.01),(20.50,0.0046),(20.55,0.0085),(20.60,0.003),(20.65,0.008),(20.70,0.001),(21.11,0.003),(21.16,0),(21.47,0.0037),(21.52,0.0055),(21.58,0.003),(22.40,0.001),(22.48,0)]

jun_pz1 = [(0.25,0),(0.28,0.0045),(0.33,0),(0.39,0.0145),(0.44,0),(0.49,0.012),(0.54,0.011),(0.60,0.002),(0.65,0.012),(0.70,0.009),(0.75,0.008),(0.80,0),(1.01,0.0005),(1.22,0.001),(1.54,0),(1.59,0.006),(1.66,0.012),(1.71,0.026),(1.78,0.026),(1.85,0.003),(1.95,0),(2.42,0),(2.48,0.001),(2.53,0),(3.00,0),(3.04,0.01),(3.08,0.06),(3.14,0.078),(3.22,0.075),(3.30,0.078),(3.38,0.06),(3.43,0.04),(3.47,0.015),(3.55,0),(3.63,0),(3.68,0.012),(3.76,0.012),(3.82,0),(3.92,0),(3.96,0.0068),(4.04,0.0068),(4.08,0),(4.46,0.0005),(4.51,0.001),(4.88,0.0005),(5.40,0.0005),(5.80,0.0005),(6.68,0),(6.72,0.045),(6.78,0.04),(6.85,0.06),(6.92,0.07),(6.97,0.09),(7.02,0.06),(7.08,0.075),(7.14,0.05),(7.20,0.065),(7.26,0.04),(7.32,0.07),(7.38,0.055),(7.44,0.045),(7.50,0.055),(7.55,0.022),(7.62,0.05),(7.68,0.035),(7.75,0.025),(7.82,0.018),(7.88,0.03),(7.94,0.02),(8.00,0.012),(8.07,0.006),(8.14,0.003),(8.22,0.03),(8.30,0.057),(8.36,0.04),(8.42,0.05),(8.48,0.026),(8.55,0.02),(8.62,0.03),(8.69,0.027),(8.75,0.015),(8.82,0.006),(8.88,0.005),(8.94,0),(10.47,0.001),(10.52,0.0015),(10.60,0),(11.52,0.0005),(12.98,0.0005),(13.61,0.001),(13.66,0),(13.71,0.0042),(13.87,0.0042),(13.92,0),(14.05,0),(14.12,0.02),(14.18,0.045),(14.24,0.06),(14.30,0.035),(14.36,0.02),(14.42,0.01),(14.48,0.005),(14.55,0.015),(14.62,0.035),(14.68,0.06),(14.75,0.075),(14.82,0.07),(14.88,0.045),(14.95,0.03),(15.02,0.04),(15.10,0.035),(15.17,0.03),(15.25,0.015),(15.33,0.013),(15.42,0.011),(15.52,0.007),(15.62,0.05),(15.70,0.07),(15.78,0.055),(15.85,0.075),(15.92,0.085),(15.98,0.07),(16.05,0.04),(16.12,0.01),(16.17,0.001),(16.27,0.001),(16.38,0.026),(16.48,0.038),(16.53,0.026),(16.58,0.013),(16.63,0.001),(16.74,0.021),(16.79,0.013),(16.84,0.001),(16.90,0.0046),(16.95,0),(17.30,0.0005),(17.60,0.0015),(17.90,0.001),(18.30,0.001),(18.52,0),(18.62,0.003),(18.71,0.028),(18.78,0.008),(18.85,0.015),(18.91,0.038),(18.97,0.02),(19.04,0),(19.19,0),(19.30,0.012),(19.40,0.012),(19.48,0),(19.56,0),(19.64,0.02),(19.70,0.045),(19.77,0.063),(19.85,0.03),(19.92,0),(19.98,0.024),(20.03,0.018),(20.09,0.03),(20.14,0.037),(20.19,0.015),(20.24,0.045),(20.29,0.04),(20.34,0.068),(20.40,0.05),(20.45,0.045),(20.50,0.025),(20.58,0.011),(20.66,0.024),(20.73,0.01),(20.81,0.003),(20.90,0),(21.02,0.003),(21.07,0.003),(21.13,0.006),(21.21,0.0035),(21.28,0.014),(21.36,0.013),(21.42,0.016),(21.50,0.02),(21.57,0.045),(21.63,0.07),(21.69,0.045),(21.75,0.004),(21.84,0.013),(21.91,0.013),(21.99,0.007),(22.07,0),(22.20,0),(22.26,0.03),(22.33,0.065),(22.39,0.03),(22.44,0.014),(22.49,0.035),(22.54,0.028),(22.62,0.045),(22.68,0.065),(22.74,0.05),(22.80,0.07),(22.86,0.055),(22.92,0.034),(22.98,0.08),(23.05,0.065),(23.12,0.075),(23.20,0.085),(23.27,0.07),(23.34,0.097),(23.41,0.08),(23.47,0.035),(23.53,0.07),(23.60,0.065),(23.67,0.05),(23.74,0.065),(23.80,0.035),(23.86,0.06),(23.93,0.045),(24.00,0.035),(24.04,0.012),(24.10,0.02),(24.18,0.003),(24.26,0.004),(24.32,0.027),(24.38,0.045),(24.44,0.05),(24.50,0.04),(24.56,0.03),(24.63,0.022),(24.68,0.012),(24.74,0.019),(24.80,0.019),(24.89,0.01),(25.00,0),(25.40,0),(25.46,0.0046),(25.52,0),(25.62,0.0025),(25.73,0.002),(25.83,0),(26.25,0),(26.31,0.005),(26.38,0.004),(26.44,0.005),(26.50,0),(27.35,0)]

jun_pz3 = [(0.23,0.003),(0.28,0.0),(0.33,0.035),(0.39,0.015),(0.44,0.004),(0.49,0.01),(0.55,0.005),(0.60,0.012),(0.65,0.006),(0.70,0.008),(0.80,0.002),(0.96,0),(1.07,0.0015),(1.12,0.0075),(1.17,0.0075),(1.23,0.005),(1.27,0.01),(1.33,0.002),(1.38,0),(1.48,0.01),(1.54,0.022),(1.59,0.015),(1.66,0.02),(1.74,0.026),(1.80,0.015),(1.90,0.002),(2.01,0),(2.63,0),(2.69,0.009),(2.74,0.0085),(2.79,0.009),(2.84,0.001),(3.00,0),(3.05,0.02),(3.10,0.07),(3.18,0.075),(3.26,0.07),(3.34,0.075),(3.40,0.05),(3.45,0.02),(3.52,0.006),(3.63,0.015),(3.68,0.017),(3.73,0.01),(3.78,0.004),(3.94,0),(3.99,0.018),(4.04,0.016),(4.10,0.005),(4.20,0),(4.40,0.001),(4.46,0.009),(4.51,0.009),(4.59,0.003),(4.72,0),(4.93,0.002),(5.04,0.001),(5.19,0.003),(5.40,0.002),(5.50,0.001),(5.56,0.009),(5.61,0.009),(5.66,0.005),(5.77,0),(6.40,0),(6.45,0.006),(6.50,0.006),(6.55,0.001),(6.66,0),(6.72,0.05),(6.80,0.06),(6.87,0.075),(6.94,0.082),(7.00,0.07),(7.06,0.072),(7.12,0.06),(7.20,0.07),(7.28,0.055),(7.35,0.065),(7.42,0.05),(7.50,0.06),(7.56,0.04),(7.63,0.055),(7.70,0.045),(7.78,0.04),(7.85,0.035),(7.92,0.025),(8.00,0.03),(8.08,0.035),(8.15,0.015),(8.22,0.04),(8.30,0.06),(8.38,0.055),(8.45,0.05),(8.52,0.035),(8.60,0.045),(8.68,0.04),(8.75,0.03),(8.85,0.027),(8.92,0.01),(8.98,0.003),(9.06,0.002),(9.16,0),(9.38,0),(9.43,0.004),(9.48,0),(9.70,0),(9.74,0.005),(9.79,0),(9.84,0.004),(9.95,0),(10.05,0),(10.10,0.0085),(10.16,0.0015),(10.26,0.015),(10.31,0.016),(10.37,0.015),(10.42,0.02),(10.47,0.009),(10.52,0.004),(10.63,0),(11.10,0),(11.17,0.004),(11.25,0.008),(11.31,0.0075),(11.41,0.0065),(11.46,0.0065),(11.52,0.002),(11.67,0),(12.46,0),(12.51,0.008),(12.56,0.0105),(12.64,0.011),(12.72,0.012),(12.77,0.006),(12.82,0),(13.61,0.001),(13.66,0.008),(13.73,0.018),(13.79,0.004),(13.87,0.001),(14.05,0),(14.12,0.03),(14.20,0.05),(14.30,0.04),(14.40,0.025),(14.50,0.02),(14.60,0.04),(14.70,0.065),(14.80,0.07),(14.90,0.05),(15.00,0.045),(15.10,0.04),(15.20,0.03),(15.30,0.035),(15.40,0.025),(15.50,0.02),(15.60,0.055),(15.70,0.06),(15.80,0.065),(15.90,0.08),(16.00,0.075),(16.10,0.04),(16.20,0.02),(16.30,0.005),(16.40,0.025),(16.50,0.035),(16.60,0.02),(16.70,0.015),(16.80,0.01),(16.90,0.003),(17.00,0),(17.30,0.001),(17.60,0.0015),(17.90,0.001),(18.30,0.0015),(18.45,0),(18.51,0.02),(18.56,0.025),(18.62,0.02),(18.67,0.045),(18.73,0.06),(18.78,0.062),(18.83,0.035),(18.93,0.03),(19.04,0.005),(19.14,0),(19.25,0.015),(19.35,0.025),(19.40,0.033),(19.46,0.01),(19.51,0),(19.61,0.03),(19.68,0.06),(19.77,0.07),(19.85,0.045),(19.92,0.01),(20.00,0.03),(20.08,0.04),(20.16,0.045),(20.24,0.055),(20.31,0.06),(20.40,0.05),(20.48,0.04),(20.56,0.03),(20.63,0.028),(20.71,0.022),(20.81,0.004),(20.97,0.001),(21.07,0.005),(21.13,0.015),(21.18,0.018),(21.23,0.012),(21.28,0.015),(21.36,0.02),(21.44,0.028),(21.49,0.03),(21.57,0.055),(21.63,0.06),(21.70,0.05),(21.77,0.022),(21.86,0.023),(21.94,0.025),(21.98,0.02),(22.07,0.006),(22.17,0.003),(22.26,0.04),(22.33,0.045),(22.39,0.035),(22.44,0.03),(22.49,0.04),(22.56,0.05),(22.62,0.055),(22.70,0.07),(22.78,0.06),(22.85,0.065),(22.92,0.05),(23.00,0.075),(23.08,0.07),(23.15,0.08),(23.22,0.085),(23.30,0.07),(23.37,0.09),(23.44,0.075),(23.50,0.06),(23.57,0.065),(23.64,0.07),(23.70,0.055),(23.78,0.06),(23.85,0.05),(23.92,0.055),(24.00,0.04),(24.08,0.03),(24.15,0.02),(24.22,0.025),(24.30,0.035),(24.38,0.05),(24.45,0.055),(24.52,0.045),(24.60,0.04),(24.68,0.03),(24.75,0.035),(24.82,0.03),(24.88,0.02),(24.95,0.01),(25.02,0.003),(25.10,0),(25.40,0.002),(25.46,0.017),(25.52,0.018),(25.58,0.012),(25.65,0.007),(25.72,0.003),(25.80,0.001),(26.20,0),(26.25,0.003),(26.30,0.006),(26.38,0.004),(26.44,0.005),(26.50,0.001),(27.35,0)]

PERIODS = [("Calm\nM1", "2013-05-15T00:00", "2013-05-17T00:00", "calm"),
           ("Wind\nM1", "2013-05-18T15:00", "2013-05-20T15:00", "wind"),
           ("Wind\nJ1", "2013-06-15T17:00", "2013-06-17T17:00", "wind"),
           ("Calm\nJ1", "2013-06-18T14:00", "2013-06-20T14:00", "calm"),
           ("Calm\nJ2", "2013-06-20T17:00", "2013-06-22T17:00", "calm"),
           ("Wind\nJ2", "2013-06-23T11:00", "2013-06-25T11:00", "wind"),
           ("Wind\nJ3", "2013-07-01T14:00", "2013-07-03T14:00", "wind")]

MONTHS = [("May", "2013-05-01", "2013-06-01"), ("Jun", "2013-06-01", "2013-07-01"),
          ("Jul", "2013-07-01", "2013-08-01")]

SERIES = [(may_ws, may_wd, may_pz1, may_pz3), (jun_ws, jun_wd, jun_pz1, jun_pz3)]

# ---------------- style ----------------
WS_COL = '#5c5c5c'
WD_COL = '#ff9505'
PZ1_COL = '#00508f'
PZ3_COL = '#7fa8cc'
SHADE = {'wind': '#ecdada', 'calm': '#ededd9'}
GRID = dict(color='#8a8a8a', linestyle=(0, (1, 4)), linewidth=1.0)
TICK_FS = 17

# layout in pixels
W, H = 1904, 838
SEG_X = [(122, 866), (896, 1789)]
TOP_Y = (23, 276)
BOT_Y = (305, 764)


def rect(x0, x1, y0, y1):
    return [x0 / W, 1 - y1 / H, (x1 - x0) / W, (y1 - y0) / H]


def dnum(s):
    return mdates.date2num(np.datetime64(s))


fig = plt.figure(figsize=(W / 100, H / 100), dpi=100)

for i, (s0, s1) in enumerate(SEGMENTS):
    t0, t1 = dnum(s0), dnum(s1)
    ws, wd, p1, p3 = [np.array(a, dtype=float) for a in SERIES[i]]
    at = fig.add_axes(rect(*SEG_X[i], *TOP_Y))
    ab = fig.add_axes(rect(*SEG_X[i], *BOT_Y))
    ad = at.twinx()
    for a in (at, ab):
        a.set_xlim(t0, t1)
        a.set_axisbelow(True)

    # shaded periods
    for lab, a0, a1, kind in PERIODS:
        p0, p1_ = dnum(a0), dnum(a1)
        if p1_ <= t0 or p0 >= t1:
            continue
        for a in (at, ab):
            a.axvspan(p0, p1_, color=SHADE[kind], lw=0, zorder=0)
        ab.text((p0 + p1_) / 2, 0.1169, lab, ha='center', va='top',
                fontsize=17.5, linespacing=1.38, zorder=6)

    # data
    at.plot(t0 + ws[:, 0], ws[:, 1], color=WS_COL, lw=2.8, zorder=3)
    ad.plot(t0 + wd[:, 0], wd[:, 1], 'o', ms=4.3, color=WD_COL, mec='none',
            clip_on=False, zorder=4)
    ab.plot(t0 + p3[:, 0], p3[:, 1], color=PZ3_COL, lw=0.9, zorder=3)
    ab.plot(t0 + p1[:, 0], p1[:, 1], color=PZ1_COL, lw=3.2, zorder=4)

    # --- top panel axes
    at.set_ylim(0, 16)
    at.yaxis.set_major_locator(FixedLocator([0, 4, 8, 12, 16]))
    at.yaxis.set_minor_locator(FixedLocator([2, 6, 10, 14]))
    at.xaxis.set_major_locator(mdates.WeekdayLocator(byweekday=mdates.TU))
    at.tick_params(axis='x', which='both', bottom=False, labelbottom=False)
    at.grid(True, which='major', **GRID)
    ad.set_ylim(0, 360)
    for sp in ('left', 'right', 'bottom'):
        at.spines[sp].set_visible(False)
    for sp in ad.spines.values():
        sp.set_visible(False)
    at.spines['top'].set_color('#555555')
    at.spines['top'].set_linewidth(1.7)
    at.spines['top'].set_zorder(5)
    if i == 0:
        at.spines['left'].set_visible(True)
        at.spines['left'].set_linewidth(1.0)
        at.tick_params(axis='y', which='major', direction='out', length=9.5,
                       width=1.0, labelsize=TICK_FS, pad=5)
        at.tick_params(axis='y', which='minor', direction='out', length=5, width=1.0)
        ad.tick_params(axis='y', which='both', right=False, labelright=False)
        # top line continues across the axis break
        gap = (SEG_X[1][0] - SEG_X[0][1]) * (t1 - t0) / (SEG_X[0][1] - SEG_X[0][0])
        at.spines['top'].set_bounds(t0, t1 + gap)
    else:
        at.tick_params(axis='y', which='both', left=False, labelleft=False)
        ad.yaxis.set_major_locator(FixedLocator([0, 90, 180, 270, 360]))
        ad.tick_params(axis='y', which='major', direction='out', length=9.5,
                       width=1.0, labelsize=TICK_FS, pad=4)
        ad.spines['right'].set_visible(True)
        ad.spines['right'].set_linewidth(1.0)
        ext = (BOT_Y[1] - TOP_Y[1]) / (TOP_Y[1] - TOP_Y[0]) * 360
        ad.spines['right'].set_bounds(-ext, 360)

    # --- bottom panel axes
    ab.set_ylim(0, 0.12)
    ab.yaxis.set_major_locator(MultipleLocator(0.02))
    ab.yaxis.set_minor_locator(MultipleLocator(0.01))
    ab.yaxis.set_major_formatter(FuncFormatter(lambda v, p: '0' if abs(v) < 1e-9 else f'{v:.2f}'))
    ab.xaxis.set_major_locator(mdates.WeekdayLocator(byweekday=mdates.TU))
    ab.xaxis.set_minor_locator(mdates.DayLocator())
    ab.xaxis.set_major_formatter(mdates.DateFormatter('%-d'))
    ab.tick_params(axis='x', which='major', direction='out', length=10, width=1.0,
                   labelsize=TICK_FS, pad=4)
    ab.tick_params(axis='x', which='minor', direction='out', length=5, width=1.0)
    ab.grid(True, which='major', **GRID)
    ab.spines['top'].set_visible(False)
    ab.spines['bottom'].set_linewidth(1.0)
    if i == 0:
        ab.spines['right'].set_visible(False)
        ab.spines['left'].set_linewidth(1.0)
        ab.tick_params(axis='y', which='major', direction='out', length=9.5,
                       width=1.0, labelsize=TICK_FS, pad=5)
        ab.tick_params(axis='y', which='minor', direction='out', length=5, width=1.0)
    else:
        ab.spines['left'].set_visible(False)
        ab.spines['right'].set_visible(False)
        ab.tick_params(axis='y', which='both', left=False, labelleft=False)

    # month labels centred on the part of each month shown
    for mname, m0, m1 in MONTHS:
        a0, a1 = max(dnum(m0), t0), min(dnum(m1), t1)
        if a1 - a0 < 1:
            continue
        ab.annotate(mname, xy=((a0 + a1) / 2, 0), xycoords=('data', 'axes fraction'),
                    xytext=(0, -44), textcoords='offset points', ha='center',
                    va='center', fontsize=17.5)

# axis titles
fig.text(37 / W, 1 - 149 / H, 'Wind speed (m s$^{-1}$)', rotation=90,
         ha='center', va='center', fontsize=24)
fig.text(37 / W, 1 - 530 / H, 'H$_s$ (m)', rotation=90, ha='center',
         va='center', fontsize=24)
fig.text(1866 / W, 1 - 169 / H, 'Wind dir. (°)', rotation=270, ha='center',
         va='center', fontsize=24)

# legend
handles = [Line2D([], [], color=PZ1_COL, lw=3.2),
           Line2D([], [], color=PZ3_COL, lw=1.0),
           Line2D([], [], color=WS_COL, lw=2.8),
           Line2D([], [], color=WD_COL, marker='o', ls='none', ms=4.3, mec='none')]
labels = ['Pz1 - wave height', 'Pz3 - wave height', 'Wind speed', 'Wind direction']
fig.legend(handles, labels, loc='upper left', bbox_to_anchor=(701 / W, 1 - 314 / H),
           frameon=False, fontsize=21.5, handlelength=1.2, handletextpad=0.45,
           labelspacing=0.25, borderaxespad=0, borderpad=0)

fig.savefig('out.png', dpi=100)
